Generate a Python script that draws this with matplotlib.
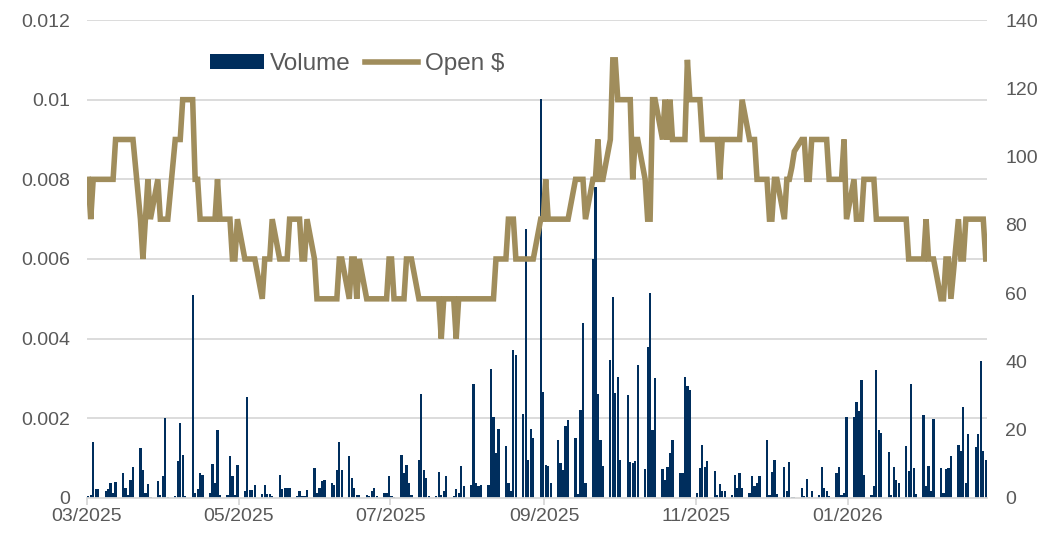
import numpy as np
import pandas as pd
import matplotlib
matplotlib.use("Agg")
import matplotlib.pyplot as plt
import matplotlib.dates as mdates
from matplotlib.patches import Patch
from matplotlib.lines import Line2D

# trading days, Mon-Fri, 03/03/2025 .. 27/02/2026
dates = pd.bdate_range("2025-03-03", "2026-02-27")

# daily volume (right axis), one row per week
volume = [
    0.7, 1, 16.5, 2.5, 2.5,
    2, 2.5, 4.4, 1.5, 4.7,
    7.3, 2.9, 1, 5.3, 9.2,
    14.6, 8.3, 1.5, 4.1, 0.3,
    4.9, 1, 6.3, 23.3, 0.3,
    0.5, 10.7, 21.9, 12.6, 0.5,
    59.5, 1.5, 2.5, 7.3, 6.8,
    1.5, 10, 4.4, 19.9, 1,
    1, 12.2, 6.3, 1, 9.7,
    2, 29.5, 2.4, 2.4, 3.9,
    1.3, 3.9, 1.3, 1.3, 0.5,
    6.8, 2.5, 2.9, 2.9, 2.9,
    0.5, 2, 0.5, 0.5, 2.4,
    8.7, 1.5, 2.9, 4.9, 5.3,
    4.4, 3.9, 8.3, 16.5, 8.3,
    12.2, 5.8, 2.9, 1, 1,
    1, 0.5, 2, 2.9, 0.5,
    1.6, 1.6, 6.3, 0.5, 0.3,
    12.6, 7.3, 9.7, 4.4, 1,
    11.2, 30.6, 8.3, 5.8, 0.7,
    0.7, 7.6, 1, 2, 6.5,
    0.7, 2.6, 1.5, 9.4, 3.4,
    3.9, 33.5, 4.4, 3.4, 3.9,
    3.9, 37.9, 23.8, 13.1, 20.1,
    15.1, 4.4, 2, 43.3, 41.8,
    24.6, 78.7, 11.2, 20.1, 17.5,
    117, 31, 9.7, 9.5, 4.4,
    17, 10.2, 8.3, 21.1, 22.8,
    17.5, 1.3, 25.8, 51.2, 4.4,
    70, 91, 30.6, 17, 9.4,
    40.5, 58.8, 30.8, 35.5, 11.2,
    30.1, 10.4, 10.2, 10.7, 38.9,
    8.5, 44.2, 60.1, 19.9, 35.2,
    8.5, 5.2, 9, 13.1, 17,
    7.3, 7.3, 35.3, 32.8, 31.6,
    1.5, 8.7, 15.6, 9.2, 10.7,
    7.8, 1, 4.2, 2, 2,
    1, 6.8, 2.9, 7.3, 2.9,
    1.6, 6.5, 3.4, 4.4, 6.3,
    17, 1, 7.5, 11, 1.3,
    9, 2, 10.4, 0.3, 0.3,
    2.9, 0.5, 5.5, 0.3, 2,
    1, 9.2, 2.9, 2, 0.7,
    7.3, 9, 1, 1.5, 23.8,
    23.8, 28.2, 25.6, 34.5, 6.8,
    1, 3.4, 37.4, 19.9, 19,
    13.4, 1, 9.2, 5.3, 4.4,
    15.1, 7.8, 33.5, 8.7, 1.3,
    24.3, 3.4, 9.4, 2, 23,
    8.9, 1.5, 8.5, 8.7, 12.2,
    15.6, 13.9, 26.7, 4.4, 18.7,
    14.9, 18.7, 40.1, 13.9, 11,
]

# daily open price in $ (left axis)
open_price = [
    .008, .007, .008, .008, .008,
    .008, .008, .008, .008, .009,
    .009, .009, .009, .009, .009,
    .007, .006, .007, .008, .007,
    .008, .007, .007, .007, .007,
    .009, .009, .009, .010, .010,
    .010, .008, .008, .007, .007,
    .007, .007, .007, .008, .007,
    .007, .007, .006, .006, .007,
    .006, .006, .006, .006, .006,
    .005, .006, .006, .006, .007,
    .006, .006, .006, .006, .007,
    .007, .007, .006, .006, .007,
    .006, .005, .005, .005, .005,
    .005, .005, .005, .006, .006,
    .005, .006, .006, .005, .006,
    .005, .005, .005, .005, .005,
    .005, .005, .006, .006, .005,
    .005, .005, .006, .006, .006,
    .005, .005, .005, .005, .005,
    .005, .005, .004, .005, .005,
    .005, .004, .005, .005, .005,
    .005, .005, .005, .005, .005,
    .005, .005, .005, .006, .006,
    .006, .007, .007, .007, .006,
    .006, .006, .006, .006, .006,
    .007, .007, .008, .007, .007,
    .007, .007, .007, .007, .007,
    .008, .008, .008, .008, .007,
    .008, .008, .009, .008, .008,
    .009, .011, .011, .010, .010,
    .010, .010, .008, .009, .009,
    .008, .007, .007, .010, .010,
    .009, .010, .009, .010, .009,
    .009, .009, .009, .011, .010,
    .010, .010, .009, .009, .009,
    .009, .009, .008, .009, .009,
    .009, .009, .009, .009, .010,
    .009, .009, .009, .008, .008,
    .008, .007, .007, .008, .008,
    .007, .008, .008, .0083, .0087,
    .009, .009, .008, .008, .009,
    .009, .009, .009, .009, .008,
    .008, .008, .008, .009, .007,
    .008, .007, .007, .007, .008,
    .008, .008, .007, .007, .007,
    .007, .007, .007, .007, .007,
    .007, .006, .006, .006, .006,
    .006, .007, .006, .006, .006,
    .005, .005, .006, .006, .005,
    .007, .006, .006, .007, .007,
    .007, .007, .007, .007, .006,
]

tick_dates = pd.to_datetime(["2025-03-03", "2025-05-03", "2025-07-03",
                             "2025-09-03", "2025-11-03", "2026-01-03"])

navy = "#002E5D"
gold = "#A08D5C"
grey_txt = "#595959"
grid_c = "#D9D9D9"

plt.rcParams["font.family"] = ["Liberation Sans", "DejaVu Sans"]

fig = plt.figure(figsize=(10.43, 5.35), dpi=100)
ax_vol = fig.add_axes([0.0834, 0.0692, 0.8629, 0.8934])
ax_px = ax_vol.twinx()

x = mdates.date2num(dates) + 0.5

# volume bars on the bottom axes
ax_vol.bar(x, volume, width=0.9, color=navy, linewidth=0, zorder=2)
ax_vol.set_ylim(0, 140)
ax_vol.set_yticks(np.arange(0, 141, 20))
ax_vol.yaxis.tick_right()

# gridlines follow the price axis (0.002 steps), drawn behind the bars
for k in range(1, 7):
    ax_vol.axhline(140 * k / 6, color=grid_c, linewidth=1.3, zorder=0)

# open price line on top
ax_px.plot(x, open_price, color=gold, linewidth=4, solid_joinstyle="miter",
           zorder=3)
ax_px.set_ylim(0, 0.012)
ax_px.set_yticks(np.arange(0, 0.0121, 0.002))
ax_px.set_yticklabels(["0", "0.002", "0.004", "0.006", "0.008", "0.01", "0.012"])
ax_px.yaxis.tick_left()

ax_vol.set_zorder(0)
ax_px.set_zorder(1)
ax_px.patch.set_visible(False)

xmin = mdates.date2num(pd.Timestamp("2025-03-03"))
xmax = mdates.date2num(pd.Timestamp("2026-02-28"))
ax_vol.set_xlim(xmin, xmax)
ax_vol.set_xticks(mdates.date2num(tick_dates))
ax_vol.xaxis.set_major_formatter(mdates.DateFormatter("%m/%Y"))

for a in (ax_vol, ax_px):
    for s in a.spines.values():
        s.set_visible(False)
    a.tick_params(axis="y", length=0, labelsize=14, labelcolor=grey_txt, pad=12)
ax_vol.spines["bottom"].set_visible(True)
ax_vol.spines["bottom"].set_color(grid_c)
ax_vol.spines["bottom"].set_linewidth(1.3)
ax_vol.tick_params(axis="x", length=5, color=grid_c, width=1.3,
                   labelsize=14, labelcolor=grey_txt, pad=2)
ax_vol.tick_params(axis="y", pad=13)

handles = [Patch(facecolor=navy, edgecolor="none", label="Volume"),
           Line2D([0], [0], color=gold, linewidth=4, label="Open $")]
ax_px.legend(handles=handles, loc="center", bbox_to_anchor=(0.30, 0.908),
             ncol=2, frameon=False, fontsize=17.5, labelcolor=grey_txt,
             handlelength=2.2, handleheight=0.55, handletextpad=0.25,
             columnspacing=0.6)

fig.savefig("out.png", dpi=100)
